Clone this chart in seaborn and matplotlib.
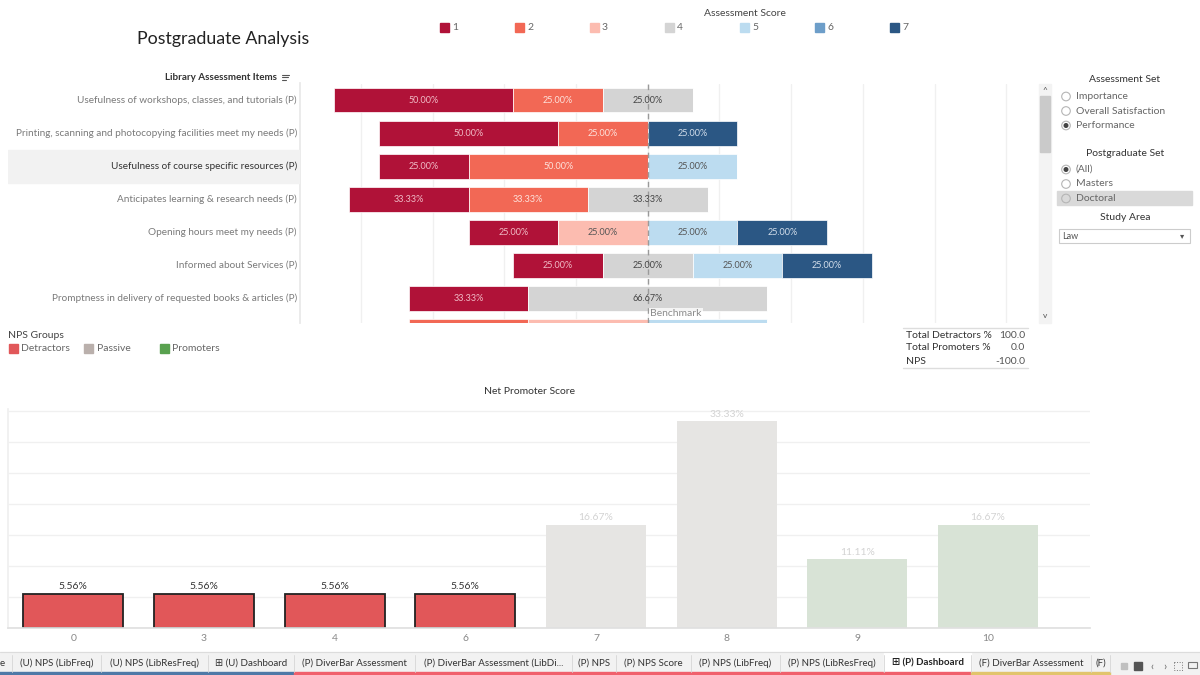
import matplotlib.pyplot as plt
import matplotlib.transforms as mtransforms
import seaborn as sns
import pandas as pd
import numpy as np
from matplotlib.patches import Rectangle, Circle

# ---- diverging assessment data (percent of respondents per score) ----
items = ['Usefulness of workshops, classes, and tutorials (P)',
         'Printing, scanning and photocopying facilities meet my needs (P)',
         'Usefulness of course specific resources (P)',
         'Anticipates learning & research needs (P)',
         'Opening hours meet my needs (P)',
         'Informed about Services (P)',
         'Promptness in delivery of requested books & articles (P)',
         'Self Service meets my needs (P)']
score_1 = [50.00, 50.00, 25.00, 33.33, 25.00, 25.00, 33.33, 0]
score_2 = [25.00, 25.00, 50.00, 33.33, 0, 0, 0, 33.33]
score_3 = [0, 0, 0, 0, 25.00, 0, 0, 33.33]
score_4 = [25.00, 0, 0, 33.33, 0, 25.00, 66.67, 0]
score_5 = [0, 0, 25.00, 0, 25.00, 25.00, 0, 33.33]
score_6 = [0, 0, 0, 0, 0, 0, 0, 0]
score_7 = [0, 25.00, 0, 0, 25.00, 25.00, 0, 0]
score_labels = ['1', '2', '3', '4', '5', '6', '7']
score_colors = ['#b01238', '#f26855', '#fcbcb0', '#d4d4d4', '#bcdcf0', '#6d9ec9', '#2b5784']
score_text_colors = ['#f0bcc6', '#fde2dc', '#555555', '#444444', '#555555', '#ffffff', '#d3deeb']
highlight_item = 2

# ---- NPS data ----
nps_scores = ['0', '3', '4', '6', '7', '8', '9', '10']
nps_pct = [5.56, 5.56, 5.56, 5.56, 16.67, 33.33, 11.11, 16.67]
nps_group = ['Detractors', 'Detractors', 'Detractors', 'Detractors',
             'Passive', 'Passive', 'Promoters', 'Promoters']
group_names = ['Detractors', 'Passive', 'Promoters']
group_colors = ['#e15759', '#bab0ac', '#59a14f']
bar_colors = {'Detractors': '#e15759', 'Passive': '#e6e5e3', 'Promoters': '#d8e3d6'}
label_colors = {'Detractors': '#333333', 'Passive': '#d3d3d3', 'Promoters': '#d3d3d3'}

table_labels = ['Total Detractors %', 'Total Promoters %', 'NPS']
table_values = ['100.0', '0.0', '-100.0']

# ---- filters / tabs ----
assessment_sets = ['Importance', 'Overall Satisfaction', 'Performance']
postgrad_sets = ['(All)', 'Masters', 'Doctoral']
tab_names = ['e', '(U) NPS (LibFreq)', '(U) NPS (LibResFreq)', '\u229e (U) Dashboard',
             '(P) DiverBar Assessment', '(P) DiverBar Assessment (LibDi...', '(P) NPS',
             '(P) NPS Score', '(P) NPS (LibFreq)', '(P) NPS (LibResFreq)',
             '\u229e (P) Dashboard', '(F) DiverBar Assessment', '(F)']
tab_edges = [-8, 12, 101, 208, 294, 415, 572, 616, 691, 780, 884, 971, 1091, 1110]
tab_colors = ['#4e79a7'] * 4 + ['#f0606c'] * 7 + ['#e2c46c'] * 2
active_tab = 10

sns.set_theme(style='white')
plt.rcParams['font.family'] = ['Lato', 'DejaVu Sans']

W, H = 1200, 675
fig = plt.figure(figsize=(12, 6.75), dpi=100)


def box(l, t, r, b):
    return [l / W, 1 - b / H, (r - l) / W, (b - t) / H]


# background canvas in pixel coordinates
bg = fig.add_axes([0, 0, 1, 1], zorder=0)
bg.set_xlim(0, W)
bg.set_ylim(H, 0)
bg.axis('off')

# ---------------- diverging bar chart ----------------
ax = fig.add_axes(box(300, 83.5, 1035, 323), zorder=1)
ax.set_facecolor('none')
scores = np.array([score_1, score_2, score_3, score_4, score_5, score_6, score_7])
rows = np.arange(len(items))
left = -(scores[:3].sum(axis=0) + scores[3] / 2)
for k in range(len(score_labels)):
    vals = scores[k]
    ax.barh(rows, vals, left=left, height=0.75, color=score_colors[k],
            edgecolor='white', linewidth=0.5)
    for i, v in enumerate(vals):
        if v > 0:
            ax.text(left[i] + v / 2, i, f'{v:.2f}%', ha='center', va='center',
                    fontsize=6.5, color=score_text_colors[k], clip_on=True)
    left = left + vals

ax.axvline(0, color='#9a9a9a', lw=1, ls=(0, (4, 3)))
trans = mtransforms.blended_transform_factory(ax.transData, ax.transAxes)
ax.text(0.7, 0.02, 'Benchmark', transform=trans, fontsize=7.5, color='#8a8a8a',
        va='bottom', ha='left',
        bbox=dict(facecolor='white', edgecolor='none', alpha=0.75, pad=1.2))
ax.set_xlim(-97, 108)
ax.set_ylim(6.74, -0.5)
ax.set_xticks(np.arange(-80, 101, 20))
ax.set_xticklabels([])
ax.set_yticks([])
ax.grid(axis='x', color='#f0f0f0', lw=1)
ax.set_axisbelow(True)
ax.tick_params(length=0)
for s in ['top', 'right', 'bottom']:
    ax.spines[s].set_visible(False)
ax.spines['left'].set_color('#e8e8e8')

# item labels panel
ax_lab = fig.add_axes(box(8, 83.5, 300, 326), zorder=1)
ax_lab.set_facecolor('none')
ax_lab.set_xlim(0, 292)
ax_lab.set_ylim(6.83, -0.5)
ax_lab.axis('off')
ax_lab.axhspan(highlight_item - 0.5, highlight_item + 0.5, color='#f2f2f2', zorder=0)
for i, name in enumerate(items):
    ax_lab.text(289, i, name, ha='right', va='center', fontsize=7.2,
                color='#333333' if i == highlight_item else '#7a7a7a', clip_on=True)

# ---------------- NPS bar chart ----------------
axn = fig.add_axes(box(8, 409, 1090, 628), zorder=1)
axn.set_facecolor('none')
df = pd.DataFrame({'score': nps_scores, 'pct': nps_pct, 'group': nps_group})
sns.barplot(data=df, x='score', y='pct', hue='group', hue_order=group_names,
            order=nps_scores, palette=bar_colors, dodge=False, width=0.765,
            saturation=1, errorbar=None, legend=False, ax=axn)
bars = sorted(axn.patches, key=lambda p: p.get_x())
for p, g, v in zip(bars, nps_group, nps_pct):
    if g == 'Detractors':
        p.set_edgecolor('#222222')
        p.set_linewidth(1.3)
    else:
        p.set_linewidth(0)
    axn.text(p.get_x() + p.get_width() / 2, p.get_height() + 0.35, f'{v:.2f}%',
             ha='center', va='bottom', fontsize=7.5, color=label_colors[g])
axn.set_xlim(-0.5, 7.78)
axn.set_ylim(0, 35.3)
axn.set_yticks(np.arange(0, 36, 5))
axn.set_yticklabels([])
axn.grid(axis='y', color='#f0f0f0', lw=1)
axn.grid(axis='x', visible=False)
axn.set_axisbelow(True)
axn.set_xlabel('')
axn.set_ylabel('')
axn.tick_params(axis='x', length=0, labelsize=7.5, labelcolor='#888888', pad=4)
axn.tick_params(axis='y', length=0)
axn.set_xticks(np.arange(0.5, 7, 1), minor=True)
axn.tick_params(axis='x', which='minor', length=3, color='#dddddd')
for s in ['top', 'right']:
    axn.spines[s].set_visible(False)
axn.spines['bottom'].set_color('#e0e0e0')
axn.spines['left'].set_color('#f0f0f0')

# ---------------- text & widgets ----------------
def t(x, y, s, **kw):
    kw.setdefault('va', 'center')
    return bg.text(x, y, s, **kw)


t(137, 39, 'Postgraduate Analysis', fontsize=12.8, color='#222222')
t(221, 77, 'Library Assessment Items', fontsize=7.1, color='#333333',
  ha='center', fontweight='bold')
for j, ln in enumerate([7, 5.5, 4]):
    bg.plot([282, 282 + ln], [74.5 + j * 2.5, 74.5 + j * 2.5], color='#555555', lw=0.8)

# score legend
t(745, 14, 'Assessment Score', fontsize=7.5, color='#444444', ha='center')
for k, (lab, col) in enumerate(zip(score_labels, score_colors)):
    cx = 444 + 75 * k
    bg.add_patch(Rectangle((cx - 4.5, 22.5), 9, 9, color=col))
    t(cx + 8, 27.5, lab, fontsize=7.5, color='#666666')

# scrollbar
bg.add_patch(Rectangle((1039, 84), 12, 239, color='#f3f3f3'))
bg.add_patch(Rectangle((1040, 96), 10, 56, color='#cacaca'))
t(1045, 90, '^', fontsize=6, color='#555555', ha='center')
t(1045, 316, 'v', fontsize=6, color='#555555', ha='center')


def radio(y, label, selected):
    bg.add_patch(Circle((1066, y), 4.3, fill=False, edgecolor='#b5b5b5', lw=0.8))
    if selected:
        bg.add_patch(Circle((1066, y), 1.8, color='#444444'))
    t(1076, y, label, fontsize=7.5, color='#666666')


t(1125, 80, 'Assessment Set', fontsize=7.5, color='#333333', ha='center')
for j, name in enumerate(assessment_sets):
    radio(96.5 + 14.5 * j, name, name == 'Performance')
t(1125, 154, 'Postgraduate Set', fontsize=7.5, color='#333333', ha='center')
bg.add_patch(Rectangle((1057, 191), 135, 14, color='#d9d9d9'))
for j, name in enumerate(postgrad_sets):
    radio(169.5 + 14.5 * j, name, name == '(All)')
t(1125, 218, 'Study Area', fontsize=7.5, color='#333333', ha='center')
bg.add_patch(Rectangle((1059, 229), 131, 14, facecolor='white', edgecolor='#cccccc', lw=0.8))
t(1062, 236.5, 'Law', fontsize=6.5, color='#555555')
t(1182, 236, '\u25be', fontsize=6, color='#555555', ha='center')

# NPS groups legend
t(8, 335, 'NPS Groups', fontsize=7.5, color='#444444')
for cx, name, col in zip([13.5, 88.5, 164], group_names, group_colors):
    bg.add_patch(Rectangle((cx - 4.5, 343.5), 9, 9, color=col))
    t(cx + 8, 348.5, name, fontsize=7.5, color='#666666')

# totals table
bg.plot([903, 1028], [328, 328], color='#dddddd', lw=1)
bg.plot([903, 1028], [368, 368], color='#dddddd', lw=1)
for j, (lab, val) in enumerate(zip(table_labels, table_values)):
    t(906, 335 + 13 * j, lab, fontsize=7.5, color='#333333')
    t(1025, 335 + 13 * j, val, fontsize=7.5, color='#555555', ha='right')

t(530, 391, 'Net Promoter Score', fontsize=7.5, color='#333333', ha='center')

# tab bar
bg.add_patch(Rectangle((0, 652), W, 23, color='#f2f2f2'))
bg.plot([0, W], [652, 652], color='#dcdcdc', lw=0.8)
for j, name in enumerate(tab_names):
    x0, x1 = tab_edges[j], tab_edges[j + 1]
    if j == active_tab:
        bg.add_patch(Rectangle((x0, 652), x1 - x0, 20, color='white'))
    bg.add_patch(Rectangle((x0, 672), x1 - x0, 3, color=tab_colors[j]))
    bg.plot([x1, x1], [655, 672], color='#d6d6d6', lw=0.6)
    t((x0 + x1) / 2, 663, name, fontsize=7, color='#222222' if j == active_tab else '#333333',
      ha='center', fontweight='bold' if j == active_tab else 'normal')
bg.add_patch(Rectangle((1121, 663), 6, 6, color='#c0c0c0'))
bg.add_patch(Rectangle((1134, 662), 8, 8, color='#555555'))
t(1152, 666, '\u2039', fontsize=8, color='#666666', ha='center')
t(1165, 666, '\u203a', fontsize=8, color='#666666', ha='center')
bg.add_patch(Rectangle((1174, 662), 8, 8, fill=False, edgecolor='#777777', lw=0.7, ls=':'))
bg.add_patch(Rectangle((1188, 662), 9, 6, fill=False, edgecolor='#777777', lw=0.8))

fig.savefig('out.png', dpi=100)
